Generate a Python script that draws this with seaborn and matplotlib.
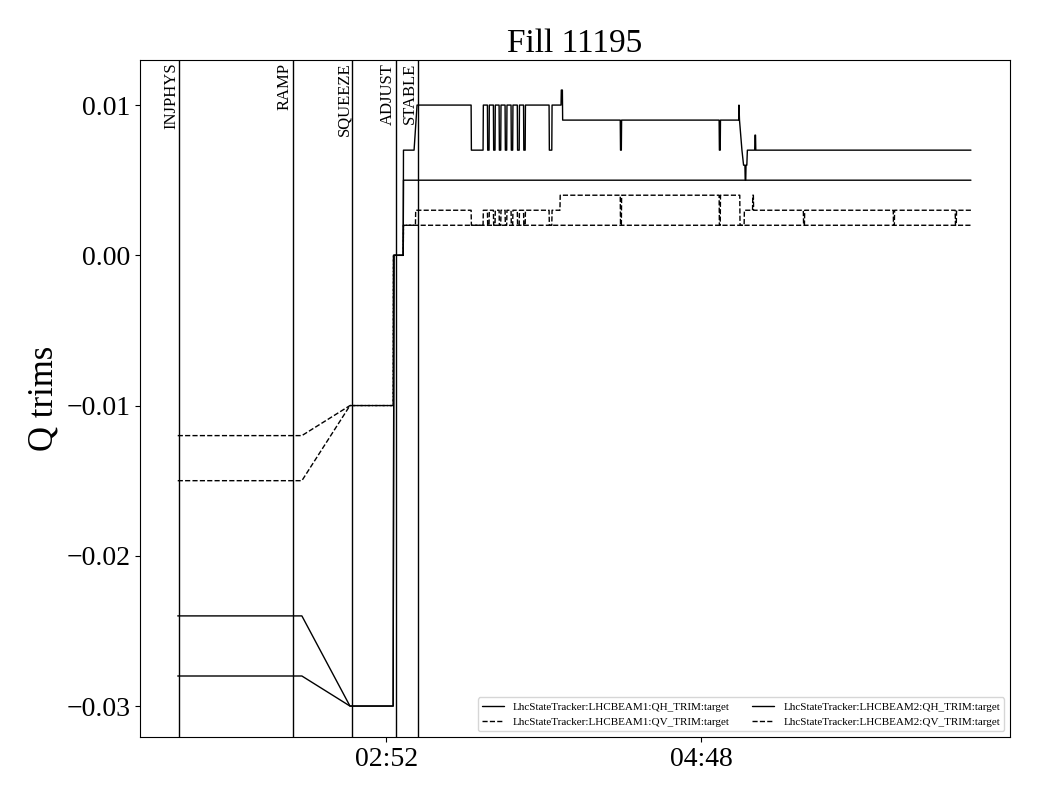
import numpy as np
import pandas as pd
import matplotlib
matplotlib.use('Agg')
import matplotlib.pyplot as plt
import matplotlib.dates as mdates
import seaborn as sns

# times are minutes after midnight, values are the tune trims
base = pd.Timestamp('2025-01-01')

comb_t = [209.3, 209.4, 209.9, 210.0, 211.5, 211.6, 212.1, 212.2, 213.6, 213.7, 214.2, 214.3,
          215.8, 215.9, 216.4, 216.5, 218.0, 218.1, 218.6, 218.7, 220.3, 220.4, 221.0, 221.1,
          222.6, 222.7, 223.2, 223.3]

b1_qh_t = ([95.3, 141.0, 158.7, 174.6, 174.9, 178.3, 178.4, 182.3, 183.4, 203.3, 203.4, 207.7, 207.8]
           + comb_t
           + [232.0, 232.1, 233.0, 233.1, 236.4, 236.5, 236.9, 237.0,
              258.2, 258.3, 258.6, 258.7, 294.6, 294.7, 295.0, 295.1,
              301.8, 301.9, 302.1, 303.0, 303.6, 304.1, 304.2, 304.4, 304.5, 304.8, 305.0,
              307.7, 307.8, 308.0, 308.1, 387.3])
b1_qh_v = ([-0.024, -0.024, -0.030, -0.030, 0.000, 0.000, 0.007, 0.007, 0.010, 0.010, 0.007, 0.007, 0.010]
           + [0.010, 0.007, 0.007, 0.010] * 7
           + [0.010, 0.007, 0.007, 0.010, 0.010, 0.011, 0.011, 0.009,
              0.009, 0.007, 0.007, 0.009, 0.009, 0.007, 0.007, 0.009,
              0.009, 0.010, 0.009, 0.007, 0.006, 0.006, 0.005, 0.005, 0.006, 0.006, 0.007,
              0.007, 0.008, 0.008, 0.007, 0.007])

b1_qv_t = ([95.3, 141.0, 158.7, 174.6, 174.7, 178.3, 178.4, 182.8, 182.9, 203.3, 203.4, 207.7, 207.8]
           + comb_t
           + [232.0, 232.1, 233.0, 233.1, 236.0, 236.1,
              258.2, 258.3, 258.6, 258.7, 294.6, 294.7, 295.0, 295.1,
              302.2, 302.3, 303.8, 303.9, 306.9, 307.0, 307.2, 307.3,
              325.6, 325.7, 326.0, 326.1, 358.7, 358.8, 359.1, 359.2,
              381.5, 381.6, 381.9, 382.0, 387.3])
b1_qv_v = ([-0.012, -0.012, -0.010, -0.010, 0.000, 0.000, 0.002, 0.002, 0.003, 0.003, 0.002, 0.002, 0.003]
           + [0.003, 0.002, 0.002, 0.003] * 7
           + [0.003, 0.002, 0.002, 0.003, 0.003, 0.004,
              0.004, 0.002, 0.002, 0.004, 0.004, 0.002, 0.002, 0.004,
              0.004, 0.002, 0.002, 0.003, 0.003, 0.004, 0.004, 0.003,
              0.003, 0.002, 0.002, 0.003, 0.003, 0.002, 0.002, 0.003,
              0.003, 0.002, 0.002, 0.003, 0.003])

b2_qh_t = [95.3, 141.0, 158.7, 174.6, 174.9, 178.3, 178.4, 387.3]
b2_qh_v = [-0.028, -0.028, -0.030, -0.030, 0.000, 0.000, 0.005, 0.005]

b2_qv_t = [95.3, 141.0, 158.7, 174.6, 174.7, 178.3, 178.4, 387.3]
b2_qv_v = [-0.015, -0.015, -0.010, -0.010, 0.000, 0.000, 0.002, 0.002]

series = [
    ('LhcStateTracker:LHCBEAM1:QH_TRIM:target', b1_qh_t, b1_qh_v, '-'),
    ('LhcStateTracker:LHCBEAM1:QV_TRIM:target', b1_qv_t, b1_qv_v, '--'),
    ('LhcStateTracker:LHCBEAM2:QH_TRIM:target', b2_qh_t, b2_qh_v, '-'),
    ('LhcStateTracker:LHCBEAM2:QV_TRIM:target', b2_qv_t, b2_qv_v, '--'),
]

modes = ['INJPHYS', 'RAMP', 'SQUEEZE', 'ADJUST', 'STABLE']
mode_t = [95.9, 137.6, 159.6, 175.7, 183.8]

sns.set_style('ticks')
plt.rcParams['font.family'] = ['Liberation Serif', 'DejaVu Serif']
for k in ['text.color', 'axes.labelcolor', 'xtick.color', 'ytick.color']:
    plt.rcParams[k] = 'black'

fig = plt.figure(figsize=(10.4, 8), dpi=100)
ax = fig.add_axes([0.1346, 0.07875, 0.8366, 0.84625])

def to_time(mins):
    return base + pd.to_timedelta(np.array(mins), unit='m')

for name, t, v, ls in series:
    df = pd.DataFrame({'time': to_time(t), 'value': v})
    sns.lineplot(data=df, x='time', y='value', ax=ax, color='black', lw=1,
                 linestyle=ls, label=name, sort=False, estimator=None)

for m, t in zip(modes, mode_t):
    x = to_time([t])[0]
    ax.axvline(x, color='black', lw=1)
    ax.text(x, 0.996, m, transform=ax.get_xaxis_transform(), rotation=90,
            ha='right', va='top', fontsize=12)

ax.set_xlim(to_time([81.4])[0], to_time([401.7])[0])
ax.set_ylim(-0.03206, 0.013)
ax.set_xticks(to_time([172, 288]))
ax.xaxis.set_major_formatter(mdates.DateFormatter('%H:%M'))
ax.set_yticks([-0.03, -0.02, -0.01, 0.0, 0.01])
ax.yaxis.set_major_formatter(matplotlib.ticker.FuncFormatter(
    lambda y, pos: ('%.2f' % y).replace('-', '\u2212')))
ax.tick_params(labelsize=20)
ax.set_xlabel('')
ax.set_ylabel('Q trims', fontsize=25, labelpad=4)
ax.set_title('Fill 11195', fontsize=24)
for s in ax.spines.values():
    s.set_color('black')
    s.set_linewidth(0.8)

ax.legend(ncol=2, loc='lower right', fontsize=8)

fig.savefig('out.png', dpi=100)
